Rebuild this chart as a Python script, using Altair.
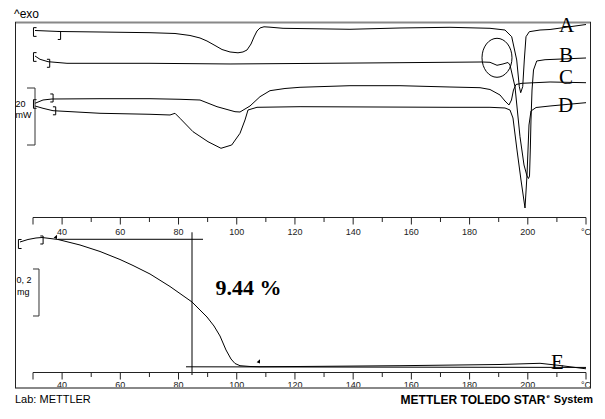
import altair as alt
import pandas as pd

# ---------------- data ----------------
# DSC curves: temperature (°C) and heat flow (mW, arbitrary offsets)
A_T = [30.69, 38.93, 53.02, 70.20, 78.79, 83.94, 87.38, 89.78, 92.53, 94.94, 97.69, 100.43, 102.15, 103.53,
       104.90, 105.93, 106.96, 107.99, 109.37, 111.43, 115.90, 138.91, 156.09, 173.27, 187.01, 192.16, 194.47,
       196.19, 197.08, 197.56, 198.25, 198.80, 199.38, 200.52, 204.20, 207.64, 220.00]
A_HF = [125.44, 125.09, 124.91, 124.67, 124.39, 123.69, 122.81, 121.75, 120.18, 118.77, 117.90, 117.61, 117.90,
        118.60, 120.70, 123.16, 125.26, 126.32, 126.74, 126.60, 126.21, 125.86, 126.32, 126.56, 126.21, 125.61,
        123.26, 115.09, 105.72, 103.61, 105.72, 115.09, 123.26, 125.02, 125.61, 125.79, 127.54]

B_T = [30.69, 32.41, 35.15, 41.68, 70.20, 97.69, 121.74, 156.09, 184.27, 187.01, 189.42, 191.48, 193.19, 193.88,
       195.60, 197.32, 198.70, 199.73, 200.24, 200.59, 200.86, 201.10, 201.45, 201.96, 203.07, 205.92, 220.00]
B_HF = [116.49, 115.33, 114.49, 113.93, 113.93, 113.69, 113.86, 114.14, 114.39, 114.28, 113.23, 113.69, 114.21,
        113.33, 105.72, 88.18, 78.25, 74.39, 73.51, 74.39, 83.51, 94.04, 104.56, 111.58, 114.74, 115.19, 115.79]

C_T = [30.69, 33.44, 36.53, 53.02, 70.20, 80.51, 87.38, 93.22, 99.40, 101.12, 104.56, 107.99, 111.43, 116.58,
       121.74, 138.91, 156.09, 173.27, 183.58, 187.01, 190.45, 192.16, 193.53, 194.39, 195.08, 195.94, 198.01,
       207.64, 220.00]
C_HF = [99.90, 101.05, 101.40, 101.51, 101.51, 101.30, 101.05, 98.70, 96.95, 96.84, 98.95, 102.21, 104.32, 105.09,
        105.51, 106.07, 106.07, 105.61, 105.37, 104.74, 102.81, 100.70, 99.30, 101.05, 104.56, 106.49, 106.91,
        107.37, 107.12]

D_T = [30.69, 33.44, 36.87, 53.02, 70.20, 77.07, 78.79, 80.51, 84.97, 90.13, 94.59, 98.27, 101.12, 102.84, 103.87,
       106.96, 121.74, 173.27, 187.01, 192.16, 193.88, 194.91, 196.29, 197.66, 199.04, 199.73, 200.41, 201.10,
       202.83, 207.64, 220.00]
D_HF = [98.95, 98.14, 97.30, 96.39, 96.04, 95.79, 96.39, 94.63, 89.93, 86.42, 84.11, 85.26, 89.37, 94.04, 97.54,
        98.49, 98.70, 98.49, 98.49, 98.25, 97.54, 94.74, 83.51, 72.98, 63.16, 74.74, 92.28, 97.19, 98.42, 98.95,
        100.11]

# TGA curve E: temperature (°C) and mass (mg, relative)
E_T = [25.53, 28.28, 31.03, 33.09, 35.84, 38.59, 46.15, 53.02, 59.89, 64.36, 70.20, 77.07, 84.63, 89.78, 92.19,
       94.25, 96.31, 98.03, 99.40, 101.12, 104.56, 107.99, 121.74, 156.09, 190.45, 204.20, 211.07, 220.00]
E_MASS = [0.6213, 0.6319, 0.6383, 0.6404, 0.6362, 0.6319, 0.6085, 0.5809, 0.5468, 0.5213, 0.4851, 0.4319, 0.3660,
          0.3021, 0.2638, 0.2213, 0.1617, 0.1234, 0.1043, 0.0949, 0.0915, 0.0906, 0.0915, 0.0949, 0.1000, 0.1051,
          0.0957, 0.0817]

CURVE_NAMES = ["A", "B", "C", "D"]
LABEL_T = [213.30, 213.13, 213.13, 212.96]
LABEL_HF = [127.19, 116.49, 108.67, 99.02]
E_LABEL_T = [210.21]
E_LABEL_MASS = [0.1043]
STEP_TEXT = ["9.44 %"]
STEP_T = [104.04]
STEP_MASS = [0.4255]

# temperature axis
TICKS_MAJOR = [30, 40, 60, 80, 100, 120, 140, 160, 180, 200, 220]
TICKS_MINOR = [50, 70, 90, 110, 130, 150, 170, 190, 210]
TICK_LABEL_T = [40, 60, 80, 100, 120, 140, 160, 180, 200, 220]
TICK_LABELS = ["40", "60", "80", "100", "120", "140", "160", "180", "200", "°C"]

# TGA step evaluation
ONSET_T = [38.59, 88.41]
ONSET_MASS = [0.6328, 0.6328]
END_T = [82.57, 220.00]
END_MASS = [0.0902, 0.0875]
MID_T = [84.63]
MID_MASS = [0.6626, 0.0553]
FLAG_T = [38.25, 107.99]
FLAG_MASS = [0.6362, 0.1064]

# curve-start brackets
DSC_OPEN_T = [30.69, 30.69, 30.69]
DSC_OPEN_HF = [124.91, 116.14, 99.65]
DSC_CLOSE_T = [39.00, 35.26, 36.42, 37.32]
DSC_CLOSE_HF = [123.69, 113.93, 101.76, 97.26]
TGA_OPEN_T = [25.53]
TGA_OPEN_MASS = [0.6128]
TGA_CLOSE_T = [32.99]
TGA_CLOSE_MASS = [0.6298]

# scale bars: 20 mW and 0.2 mg
MW_BAR_T = [27.94, 30.69]
MW_BAR_HF = [85.26, 105.26]
MG_BAR_T = [30.00, 32.06]
MG_BAR_MASS = [0.3064, 0.5064]

CIRCLE_T = [189.42]
CIRCLE_HF = [115.86]

# ---------------- chart ----------------
W, H = 576, 366
xs = alt.Scale(domain=[23.815, 221.715], nice=False, zero=False)
ys_dsc = alt.Scale(domain=[0, 128.42], nice=False, zero=False)
ys_tga = alt.Scale(domain=[0, 1.5574], nice=False, zero=False)


def X(f="T"):
    return alt.X(f"{f}:Q", scale=xs, axis=None)


def YD(f):
    return alt.Y(f"{f}:Q", scale=ys_dsc, axis=None)


def YT(f):
    return alt.Y(f"{f}:Q", scale=ys_tga, axis=None)


rows = []
for name, ts, vs in zip(CURVE_NAMES, [A_T, B_T, C_T, D_T], [A_HF, B_HF, C_HF, D_HF]):
    for i, (t, v) in enumerate(zip(ts, vs)):
        rows.append({"curve": name, "i": i, "T": t, "HF": v})
dsc_df = pd.DataFrame(rows)
tga_df = pd.DataFrame({"T": E_T, "m": E_MASS, "i": list(range(len(E_T)))})
one = pd.DataFrame({"k": [0]})

layers = []

# DSC curves
layers.append(alt.Chart(dsc_df).mark_line(color="black", strokeWidth=1).encode(
    x=X(), y=YD("HF"), detail="curve:N", order="i:Q"))
# TGA curve
layers.append(alt.Chart(tga_df).mark_line(color="black", strokeWidth=1).encode(
    x=X(), y=YT("m"), order="i:Q"))

# evaluation lines
layers.append(alt.Chart(pd.DataFrame({"T": [ONSET_T[0]], "T2": [ONSET_T[1]], "m": [ONSET_MASS[0]]}))
              .mark_rule(color="black", strokeWidth=1).encode(x=X(), x2="T2:Q", y=YT("m")))
layers.append(alt.Chart(pd.DataFrame({"T": [END_T[0]], "T2": [END_T[1]], "m": [END_MASS[0]], "m2": [END_MASS[1]]}))
              .mark_rule(color="black", strokeWidth=1).encode(x=X(), x2="T2:Q", y=YT("m"), y2="m2:Q"))
layers.append(alt.Chart(pd.DataFrame({"T": MID_T, "m": [MID_MASS[0]], "m2": [MID_MASS[1]]}))
              .mark_rule(color="black", strokeWidth=1).encode(x=X(), y=YT("m"), y2="m2:Q"))
flag_shape = "M 0 -1 L 0 1 M 0 -1 L -0.9 -0.2 L 0 0.15 Z"
layers.append(alt.Chart(pd.DataFrame({"T": FLAG_T, "m": FLAG_MASS}))
              .mark_point(shape=flag_shape, size=56, filled=True, color="black", opacity=1, strokeWidth=1)
              .encode(x=X(), y=YT("m")))

# brackets
open_shape = "M 0.35 -1 L -0.35 -1 L -0.35 1 L 0.35 1"
close_shape = "M -0.35 -1 L 0.35 -1 L 0.35 1 L -0.35 1"
layers.append(alt.Chart(pd.DataFrame({"T": DSC_OPEN_T, "v": DSC_OPEN_HF}))
              .mark_point(shape=open_shape, size=76, filled=False, color="black", opacity=1, strokeWidth=1)
              .encode(x=X(), y=YD("v")))
layers.append(alt.Chart(pd.DataFrame({"T": DSC_CLOSE_T, "v": DSC_CLOSE_HF}))
              .mark_point(shape=close_shape, size=64, filled=False, color="black", opacity=1, strokeWidth=1)
              .encode(x=X(), y=YD("v")))
layers.append(alt.Chart(pd.DataFrame({"T": TGA_OPEN_T, "m": TGA_OPEN_MASS}))
              .mark_point(shape=open_shape, size=81, filled=False, color="black", opacity=1, strokeWidth=1)
              .encode(x=X(), y=YT("m")))
layers.append(alt.Chart(pd.DataFrame({"T": TGA_CLOSE_T, "m": TGA_CLOSE_MASS}))
              .mark_point(shape=close_shape, size=64, filled=False, color="black", opacity=1, strokeWidth=1)
              .encode(x=X(), y=YT("m")))

# highlight ellipse on B
ellipse = "M -0.769 0 A 0.769 1 0 1 1 0.769 0 A 0.769 1 0 1 1 -0.769 0 Z"
layers.append(alt.Chart(pd.DataFrame({"T": CIRCLE_T, "v": CIRCLE_HF}))
              .mark_point(shape=ellipse, size=1521, filled=False, color="black", opacity=1, strokeWidth=1)
              .encode(x=X(), y=YD("v")))

# scale bars
layers.append(alt.Chart(pd.DataFrame({"T": [MW_BAR_T[1]], "v": [MW_BAR_HF[0]], "v2": [MW_BAR_HF[1]]}))
              .mark_rule(color="#333", strokeWidth=1).encode(x=X(), y=YD("v"), y2="v2:Q"))
layers.append(alt.Chart(pd.DataFrame({"T": [MW_BAR_T[0]] * 2, "T2": [MW_BAR_T[1]] * 2, "v": MW_BAR_HF}))
              .mark_rule(color="#333", strokeWidth=1).encode(x=X(), x2="T2:Q", y=YD("v")))
layers.append(alt.Chart(pd.DataFrame({"T": [MG_BAR_T[1]], "m": [MG_BAR_MASS[0]], "m2": [MG_BAR_MASS[1]]}))
              .mark_rule(color="#333", strokeWidth=1).encode(x=X(), y=YT("m"), y2="m2:Q"))
layers.append(alt.Chart(pd.DataFrame({"T": [MG_BAR_T[0]] * 2, "T2": [MG_BAR_T[1]] * 2, "m": MG_BAR_MASS}))
              .mark_rule(color="#333", strokeWidth=1).encode(x=X(), x2="T2:Q", y=YT("m")))

# temperature axes (two copies)
for y0, ylab in [(195.5, 209.5), (350.5, 363.0)]:
    layers.append(alt.Chart(pd.DataFrame({"T": [30], "T2": [220]})).mark_rule(color="#222", strokeWidth=1)
                  .encode(x=X(), x2="T2:Q", y=alt.value(y0)))
    layers.append(alt.Chart(pd.DataFrame({"T": TICKS_MAJOR})).mark_rule(color="#222", strokeWidth=1)
                  .encode(x=X(), y=alt.value(y0), y2=alt.value(y0 + 7)))
    layers.append(alt.Chart(pd.DataFrame({"T": TICKS_MINOR})).mark_rule(color="#222", strokeWidth=1)
                  .encode(x=X(), y=alt.value(y0), y2=alt.value(y0 + 4.5)))
    layers.append(alt.Chart(pd.DataFrame({"T": TICK_LABEL_T, "lab": TICK_LABELS}))
                  .mark_text(font="Liberation Sans", fontSize=9, color="#222", align="center", baseline="middle")
                  .encode(x=X(), y=alt.value(ylab), text="lab:N"))

# frame
layers.append(alt.Chart(one).mark_rule(color="#888", strokeWidth=2).encode(
    x=alt.value(0), x2=alt.value(W), y=alt.value(0.5)))
layers.append(alt.Chart(one).mark_rule(color="#888", strokeWidth=2).encode(
    x=alt.value(0), x2=alt.value(W), y=alt.value(H)))
layers.append(alt.Chart(one).mark_rule(color="#222", strokeWidth=1).encode(
    x=alt.value(0.5), y=alt.value(0), y2=alt.value(H)))
layers.append(alt.Chart(one).mark_rule(color="#222", strokeWidth=1).encode(
    x=alt.value(W - 0.5), y=alt.value(0), y2=alt.value(H)))

# curve labels
layers.append(alt.Chart(pd.DataFrame({"T": LABEL_T, "v": LABEL_HF, "lab": CURVE_NAMES}))
              .mark_text(font="Liberation Serif", fontSize=21, color="black", align="center", baseline="middle")
              .encode(x=X(), y=YD("v"), text="lab:N"))
layers.append(alt.Chart(pd.DataFrame({"T": E_LABEL_T, "m": E_LABEL_MASS, "lab": ["E"]}))
              .mark_text(font="Liberation Serif", fontSize=21, color="black", align="center", baseline="middle")
              .encode(x=X(), y=YT("m"), text="lab:N"))
layers.append(alt.Chart(pd.DataFrame({"T": STEP_T, "m": STEP_MASS, "lab": STEP_TEXT}))
              .mark_text(font="Liberation Serif", fontSize=22, fontWeight="bold", color="black",
                         align="center", baseline="middle")
              .encode(x=X(), y=YT("m"), text="lab:N"))


def label(txt, x, y, size=9, weight="normal", align="left", baseline="middle"):
    return alt.Chart(pd.DataFrame({"lab": [txt]})).mark_text(
        font="Liberation Sans", fontSize=size, fontWeight=weight, color="black", align=align, baseline=baseline
    ).encode(x=alt.value(x), y=alt.value(y), text="lab:N")


layers.append(label("^exo", -1, -4, size=12, baseline="alphabetic"))
layers.append(label("20", 0.5, 81.5))
layers.append(label("mW", 0.5, 93))
layers.append(label("0, 2", 1.5, 258))
layers.append(label("mg", 2, 269.5))
layers.append(label("Lab: METTLER", 0, 377.5, size=11))
layers.append(label("METTLER TOLEDO STAR", 530.5, 377.5, size=12, weight="bold", align="right"))
layers.append(label("e", 531.5, 374, size=6, weight="bold"))
layers.append(label("System", 578, 377.5, size=11, weight="bold", align="right"))

chart = alt.layer(*layers).resolve_scale(y="independent").properties(
    width=W, height=H,
    autosize=alt.AutoSizeParams(type="none"),
    padding={"left": 7, "top": 14, "right": 5, "bottom": 23},
).configure_view(stroke=None)

chart.save("out.html", embed_options={"renderer": "svg", "actions": False})
